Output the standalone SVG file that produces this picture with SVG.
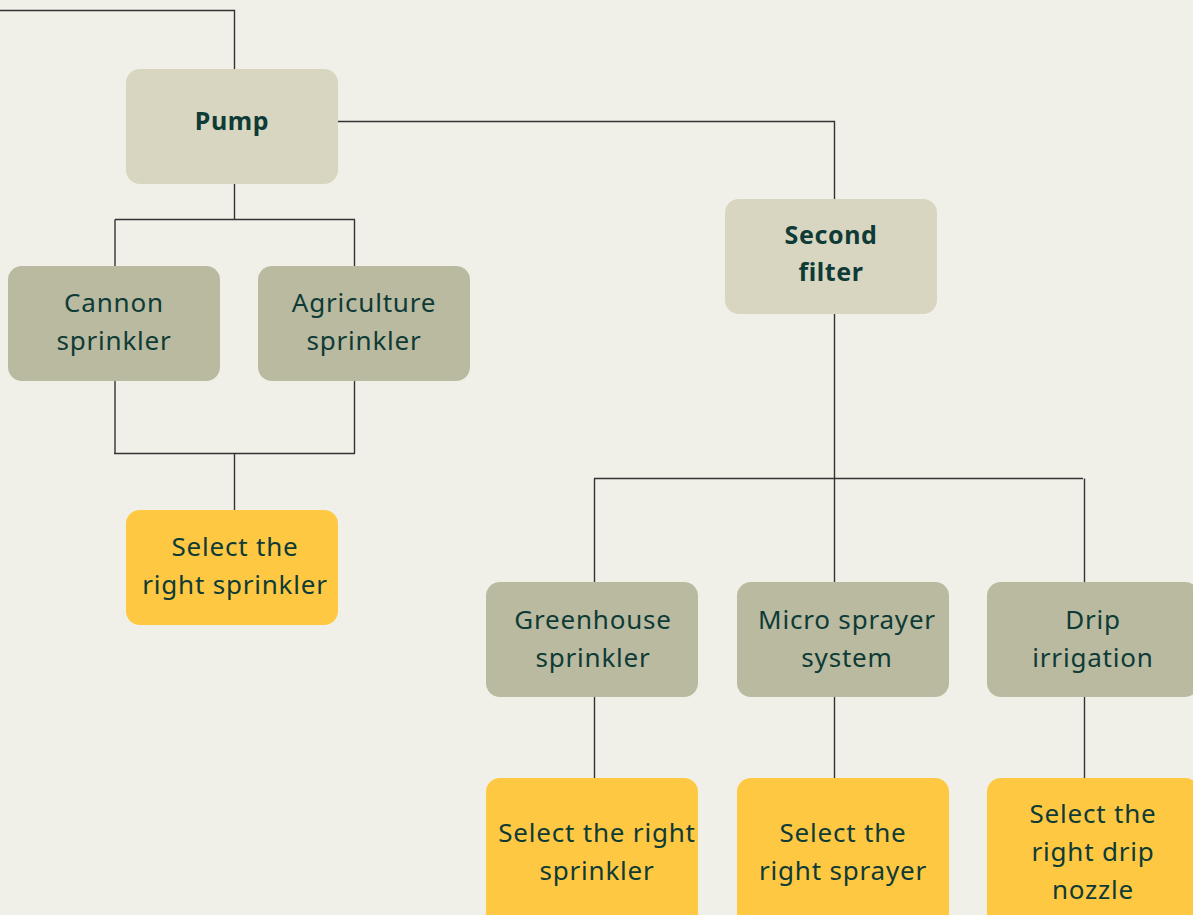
<svg xmlns="http://www.w3.org/2000/svg" width="1193" height="915" viewBox="0 0 1193 915">
<style>
.bg{fill:#f0f0e8}
.l{fill:none;stroke:#333;stroke-width:1.4}
.n1{fill:#d8d6c1}
.n2{fill:#b9baa0}
.n3{fill:#fec843}
text{font-family:"Noto Sans","Open Sans","Liberation Sans",sans-serif;font-size:26px;letter-spacing:0.8px;fill:#0e3b36;text-anchor:middle}
.b{font-weight:bold;font-size:25px;letter-spacing:0.6px}
</style>
<rect class="bg" x="0" y="0" width="1193" height="915"/>
<g id="connectors">
<path class="l" d="M0 10.5 H234.5 V69"/>
<path class="l" d="M338 121.5 H834.5 V199"/>
<path class="l" d="M234.5 184 V219.5"/>
<path class="l" d="M115 219.5 H355"/>
<path class="l" d="M115 219.5 V266"/>
<path class="l" d="M354.5 219.5 V266"/>
<path class="l" d="M115 381 V453.5"/>
<path class="l" d="M354.5 381 V453.5"/>
<path class="l" d="M114 453.5 H355"/>
<path class="l" d="M234.5 453.5 V510"/>
<path class="l" d="M834.5 314 V478.5"/>
<path class="l" d="M594 478.5 H1083"/>
<path class="l" d="M594.5 478.5 V582"/>
<path class="l" d="M834.5 478.5 V582"/>
<path class="l" d="M1084.5 478.5 V582"/>
<path class="l" d="M594.5 697 V778"/>
<path class="l" d="M834.5 697 V778"/>
<path class="l" d="M1084.5 697 V778"/>
</g>
<g id="pump"><rect class="n1" x="126" y="69" width="212" height="115" rx="14"/><text class="b" x="232" y="130">Pump</text></g>
<g id="second-filter"><rect class="n1" x="725" y="199" width="212" height="115" rx="14"/><text class="b" x="831" y="244">Second</text><text class="b" x="831" y="281">filter</text></g>
<g id="cannon"><rect class="n2" x="8" y="266" width="212" height="115" rx="14"/><text x="114" y="312">Cannon</text><text x="114" y="350">sprinkler</text></g>
<g id="agriculture"><rect class="n2" x="258" y="266" width="212" height="115" rx="14"/><text x="364" y="312">Agriculture</text><text x="364" y="350">sprinkler</text></g>
<g id="select-sprinkler-1"><rect class="n3" x="126" y="510" width="212" height="115" rx="14"/><text x="235" y="556">Select the</text><text x="235" y="594">right sprinkler</text></g>
<g id="greenhouse"><rect class="n2" x="486" y="582" width="212" height="115" rx="14"/><text x="593" y="629">Greenhouse</text><text x="593" y="667">sprinkler</text></g>
<g id="micro"><rect class="n2" x="737" y="582" width="212" height="115" rx="14"/><text x="847" y="629">Micro sprayer</text><text x="847" y="667">system</text></g>
<g id="drip"><rect class="n2" x="987" y="582" width="212" height="115" rx="14"/><text x="1093" y="629">Drip</text><text x="1093" y="667">irrigation</text></g>
<g id="select-sprinkler-2"><rect class="n3" x="486" y="778" width="212" height="150" rx="14"/><text x="597" y="842">Select the right</text><text x="597" y="880">sprinkler</text></g>
<g id="select-sprayer"><rect class="n3" x="737" y="778" width="212" height="150" rx="14"/><text x="843" y="842">Select the</text><text x="843" y="880">right sprayer</text></g>
<g id="select-nozzle"><rect class="n3" x="987" y="778" width="212" height="150" rx="14"/><text x="1093" y="823">Select the</text><text x="1093" y="861">right drip</text><text x="1093" y="899">nozzle</text></g>
</svg>
